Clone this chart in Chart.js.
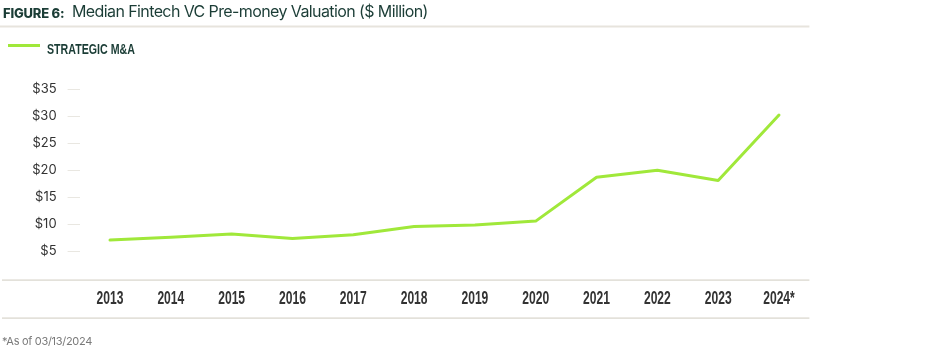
<!DOCTYPE html>
<html>
<head>
<meta charset="utf-8">
<script src="https://cdn.jsdelivr.net/npm/chart.js@4/dist/chart.umd.min.js"></script>
<style>
  html, body { margin: 0; padding: 0; background: #fff; }
  #wrap { position: relative; width: 945px; height: 355px; overflow: hidden; }
  #c { position: absolute; left: 0; top: 0; }
  .txt { position: absolute; white-space: nowrap; }
  #fig { left: 3px; top: 5px; font-family: Inter, "Open Sans", sans-serif; font-weight: 800; font-size: 13px; color: #1b3d36; letter-spacing: -0.2px; }
  #title { left: 72px; top: 1px; font-family: Inter, "Open Sans", sans-serif; font-weight: 400; font-size: 16px; color: #1b3d36; letter-spacing: -0.6px; }
  #legline { position: absolute; left: 8px; top: 44.3px; width: 32px; height: 3px; background: #a0e83a; }
  #legtxt { left: 47px; top: 40.5px; line-height: 15px; font-family: "Liberation Sans", Arial, sans-serif; font-weight: 700; font-size: 15px; color: #1b3d36; transform: scaleX(0.71); transform-origin: 0 0; }
  #foot { left: 2px; top: 334px; font-family: Inter, "Open Sans", sans-serif; font-size: 11px; color: #7a7a7a; letter-spacing: -0.3px; }
</style>
</head>
<body>
<div id="wrap">
  <canvas id="c" width="945" height="355"></canvas>
  <div class="txt" id="fig">FIGURE 6:</div>
  <div class="txt" id="title">Median Fintech VC Pre-money Valuation ($ Million)</div>
  <div id="legline"></div>
  <div class="txt" id="legtxt">STRATEGIC M&amp;A</div>
  <div class="txt" id="foot">*As of 03/13/2024</div>
</div>
<script>
const categories = ['2013','2014','2015','2016','2017','2018','2019','2020','2021','2022','2023','2024*'];
const strategicMA = [7.1, 7.6, 8.2, 7.4, 8.1, 9.6, 9.9, 10.6, 18.7, 20.0, 18.1, 30.2];
const yTickValues = [5, 10, 15, 20, 25, 30, 35];
const seriesName = 'STRATEGIC M&A';

const decoLines = {
  id: 'decoLines',
  afterDraw(chart) {
    const ctx = chart.ctx;
    const area = chart.chartArea;
    ctx.save();
    // title underline
    ctx.fillStyle = '#e7e4dd';
    ctx.fillRect(0, 25.5, area.right, 2);
    // axis baseline and bottom rule
    ctx.fillStyle = '#d8d4ca';
    ctx.fillRect(2, Math.round(area.bottom) + 0.5, area.right - 2, 1.2);
    ctx.fillRect(2, 317.5, area.right - 2, 1.2);
    // condensed category labels, positioned by the x scale
    const xs = chart.scales.x;
    ctx.fillStyle = '#333333';
    ctx.font = '700 17.5px "Liberation Sans", Arial, sans-serif';
    ctx.textAlign = 'center';
    ctx.textBaseline = 'middle';
    const sx = 0.69;
    xs.ticks.forEach((t, i) => {
      const px = xs.getPixelForTick(i);
      ctx.save();
      ctx.translate(px, 299.5);
      ctx.scale(sx, 1);
      ctx.fillText(xs.getLabelForValue(t.value), 0, 0);
      ctx.restore();
    });
    ctx.restore();
  }
};

new Chart(document.getElementById('c'), {
  type: 'line',
  data: {
    labels: categories,
    datasets: [{
      label: seriesName,
      data: strategicMA,
      borderColor: '#a0e83a',
      backgroundColor: '#a0e83a',
      borderWidth: 3,
      pointRadius: 0,
      tension: 0,
      borderCapStyle: 'round',
      borderJoinStyle: 'round'
    }]
  },
  options: {
    responsive: false,
    animation: false,
    layout: { padding: { left: 0, right: 135.6, top: 89, bottom: 36.5 } },
    plugins: { legend: { display: false }, tooltip: { enabled: false }, title: { display: false } },
    scales: {
      x: {
        offset: true,
        grid: { display: false, drawTicks: false },
        border: { display: false },
        ticks: { display: false, autoSkip: false, maxRotation: 0 },
        afterFit(scale) { scale.height = 40; }
      },
      y: {
        min: 0, max: 35,
        afterBuildTicks(scale) { scale.ticks = yTickValues.map(v => ({ value: v })); },
        grid: { drawOnChartArea: false, drawTicks: true, tickLength: 12, color: '#e9e7e1', lineWidth: 1 },
        border: { display: false },
        ticks: {
          padding: 11,
          color: '#333333',
          font: { family: 'Inter, "Open Sans", sans-serif', size: 13 },
          callback: v => '$' + v
        },
        afterFit(scale) { scale.width = 79.6; }
      }
    }
  },
  plugins: [decoLines]
});
</script>
</body>
</html>
